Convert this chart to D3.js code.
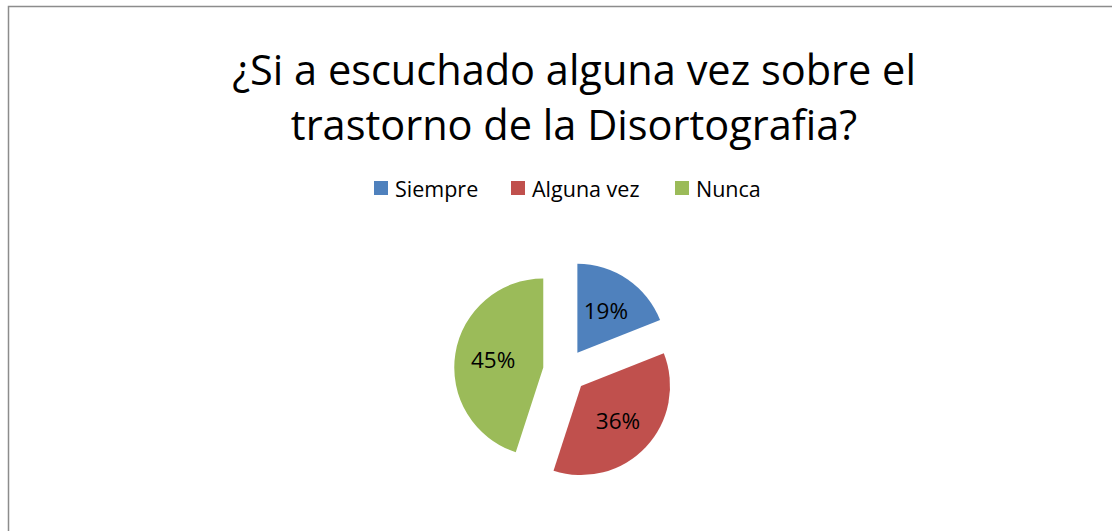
<!DOCTYPE html>
<html>
<head>
<meta charset="utf-8">
<script src="https://cdn.jsdelivr.net/npm/d3@7"></script>
<style>
  html, body { margin: 0; padding: 0; background: #fff; }
  svg { display: block; font-family: 'Open Sans', 'Noto Sans', sans-serif; }
</style>
</head>
<body>
<div id="chart"></div>
<script>
const categories = ['Siempre', 'Alguna vez', 'Nunca']
const values = [19, 36, 45]
const colors = ['#4F81BD', '#C0504D', '#9BBB59']
const titleLines = ['¿Si a escuchado alguna vez sobre el', 'trastorno de la Disortografia?']

const width = 1112
const height = 531

const svg = d3.select('#chart').append('svg')
  .attr('width', width)
  .attr('height', height)

// chart frame (right / bottom edges fall outside the picture)
svg.append('rect')
  .attr('x', 8.5)
  .attr('y', 6.5)
  .attr('width', 1140)
  .attr('height', 560)
  .attr('fill', '#fff')
  .attr('stroke', '#8c8c8c')
  .attr('stroke-width', 1.5)

svg.selectAll('.title')
  .data(titleLines)
  .join('text')
  .attr('class', 'title')
  .attr('x', 574)
  .attr('y', (_, i) => 85 + i * 55)
  .attr('text-anchor', 'middle')
  .style('font-size', '41.5px')
  .style('fill', '#000')
  .text(d => d)

const color = d3.scaleOrdinal().domain(categories).range(colors)

// legend
const legendX = [374, 511, 675]
const legend = svg.selectAll('.legend')
  .data(categories)
  .join('g')
  .attr('class', 'legend')
  .attr('transform', (_, i) => `translate(${legendX[i]},181)`)

legend.append('rect')
  .attr('width', 14)
  .attr('height', 14)
  .attr('fill', d => color(d))

legend.append('text')
  .attr('x', 21)
  .attr('y', 7)
  .attr('dominant-baseline', 'central')
  .style('font-size', '21.5px')
  .text(d => d)

// pie
const cx = 565
const cy = 371
const radius = 89
const explode = 22

const pie = d3.pie().sort(null).value(d => d)
const arc = d3.arc().innerRadius(0).outerRadius(radius)
const labelArc = d3.arc().innerRadius(radius * 0.57).outerRadius(radius * 0.57)

const total = d3.sum(values)
const slices = svg.append('g')
  .attr('transform', `translate(${cx},${cy})`)
  .selectAll('.slice')
  .data(pie(values))
  .join('g')
  .attr('class', 'slice')
  .attr('transform', d => {
    const a = (d.startAngle + d.endAngle) / 2
    return `translate(${Math.sin(a) * explode},${-Math.cos(a) * explode})`
  })

slices.append('path')
  .attr('d', arc)
  .attr('fill', (_, i) => colors[i])

slices.append('text')
  .attr('transform', d => `translate(${labelArc.centroid(d)})`)
  .attr('text-anchor', 'middle')
  .attr('dominant-baseline', 'central')
  .style('font-size', '22.5px')
  .text(d => Math.round(d.value / total * 100) + '%')
</script>
</body>
</html>
